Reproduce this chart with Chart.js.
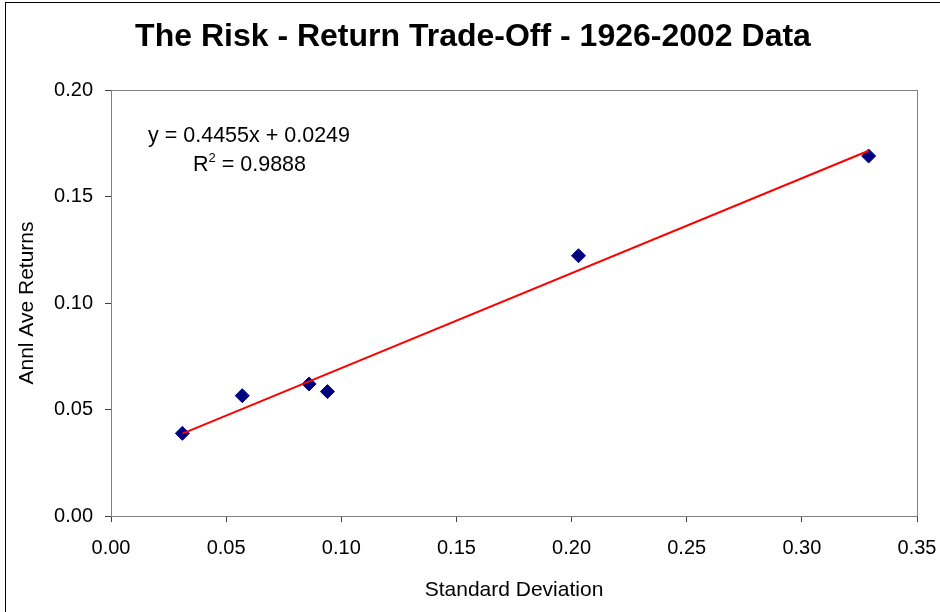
<!DOCTYPE html>
<html>
<head>
<meta charset="utf-8">
<script src="https://cdn.jsdelivr.net/npm/chart.js@4"></script>
<style>
  html, body { margin: 0; padding: 0; background: #fff; }
  #wrap { width: 940px; height: 612px; position: relative; }
</style>
</head>
<body>
<div id="wrap"><canvas id="riskChart" width="940" height="612"></canvas></div>
<script>
// Values
const stdDev = [0.031, 0.057, 0.086, 0.094, 0.203, 0.329];
const annlReturns = [0.0388, 0.0565, 0.0620, 0.0584, 0.1222, 0.1690];
// Excel linear trendline, drawn between the first and last x
const trendX = [0.031, 0.329];
const trendY = [0.0387, 0.1715];
const chartTitle = 'The Risk - Return Trade-Off - 1926-2002 Data';
const equationText = 'y = 0.4455x + 0.0249';
const r2Text = '0.9888';
const xTicks = [0, 0.05, 0.10, 0.15, 0.20, 0.25, 0.30, 0.35];
const yTicks = [0, 0.05, 0.10, 0.15, 0.20];

const FONT = "'Liberation Sans', Arial, sans-serif";

// Frame of the chart, grey plot border, title and the trendline text
const decorations = {
  id: 'decorations',
  beforeDatasetsDraw(chart) {
    const { ctx, chartArea: a } = chart;
    ctx.save();
    ctx.strokeStyle = '#808080';
    ctx.lineWidth = 1;
    ctx.strokeRect(Math.round(a.left) + 0.5, Math.round(a.top) + 0.5,
      Math.round(a.right - a.left), Math.round(a.bottom - a.top));
    ctx.restore();
  },
  afterDraw(chart) {
    const { ctx } = chart;
    ctx.save();
    ctx.strokeStyle = '#000';
    ctx.lineWidth = 1;
    ctx.strokeRect(5.5, 2.5, 960, 640);

    ctx.fillStyle = '#000';
    ctx.textBaseline = 'middle';
    ctx.textAlign = 'center';
    ctx.font = 'bold 32px ' + FONT;
    ctx.fillText(chartTitle, 473, 37);

    ctx.textAlign = 'left';
    ctx.font = '21.5px ' + FONT;
    ctx.fillText(equationText, 148, 136);
    ctx.fillText('R', 193, 165);
    const w = ctx.measureText('R').width;
    ctx.font = '13px ' + FONT;
    ctx.fillText('2', 193 + w, 158);
    const w2 = ctx.measureText('2').width;
    ctx.font = '21.5px ' + FONT;
    ctx.fillText(' = ' + r2Text, 193 + w + w2, 165);
    ctx.restore();
  }
};

const ctx = document.getElementById('riskChart').getContext('2d');
const chart = new Chart(ctx, {
  type: 'scatter',
  data: {
    datasets: [
      {
        label: 'Returns',
        data: stdDev.map((x, i) => ({ x: x, y: annlReturns[i] })),
        pointStyle: 'rectRot',
        pointRadius: 7,
        pointHoverRadius: 7,
        backgroundColor: '#000080',
        borderColor: '#000080',
        borderWidth: 1,
        order: 2
      },
      {
        label: 'Linear trend',
        type: 'line',
        data: trendX.map((x, i) => ({ x: x, y: trendY[i] })),
        borderColor: '#ff0000',
        borderWidth: 2,
        pointRadius: 0,
        fill: false,
        order: 1
      }
    ]
  },
  options: {
    responsive: false,
    animation: false,
    layout: { padding: { left: 14, right: 23, top: 90, bottom: 0 } },
    plugins: {
      legend: { display: false },
      tooltip: { enabled: false },
      title: { display: false }
    },
    scales: {
      x: {
        type: 'linear',
        min: 0,
        max: 0.35,
        afterBuildTicks(scale) { scale.ticks = xTicks.map(v => ({ value: v })); },
        afterFit(scale) {
          scale.height = 96;
          scale.paddingLeft = 0;
          scale.paddingRight = 0;
        },
        ticks: {
          color: '#000',
          font: { family: FONT, size: 20 },
          padding: 14,
          maxRotation: 0,
          callback: v => v.toFixed(2)
        },
        grid: { drawOnChartArea: false, drawTicks: true, tickLength: 6, color: '#404040' },
        border: { display: true, color: '#404040', width: 1 },
        title: {
          display: true,
          text: 'Standard Deviation',
          color: '#000',
          font: { family: FONT, size: 21 },
          padding: { top: 10, bottom: 9 }
        }
      },
      y: {
        type: 'linear',
        min: 0,
        max: 0.20,
        afterBuildTicks(scale) { scale.ticks = yTicks.map(v => ({ value: v })); },
        afterFit(scale) {
          scale.width = 97;
          scale.paddingTop = 0;
          scale.paddingBottom = 0;
        },
        ticks: {
          color: '#000',
          font: { family: FONT, size: 20 },
          padding: 12,
          callback: v => v.toFixed(2)
        },
        grid: { drawOnChartArea: false, drawTicks: true, tickLength: 6, color: '#404040' },
        border: { display: true, color: '#404040', width: 1 },
        title: {
          display: true,
          text: 'Annl Ave Returns',
          color: '#000',
          font: { family: FONT, size: 21 },
          padding: { top: 1, bottom: 0 }
        }
      }
    }
  },
  plugins: [decorations]
});
</script>
</body>
</html>
